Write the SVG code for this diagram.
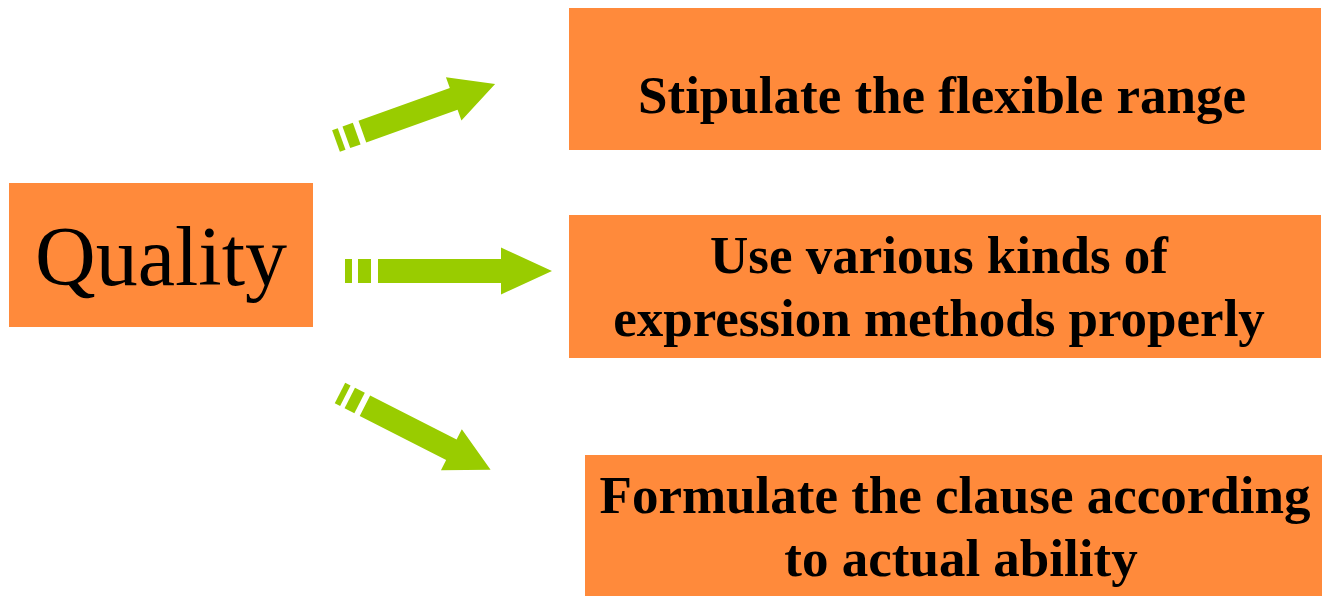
<svg xmlns="http://www.w3.org/2000/svg" width="1322" height="596" viewBox="0 0 1322 596">
  <style>
    .box { fill: #FF8A3B; }
    .label { font-family: "Liberation Serif", "Times New Roman", serif; font-weight: bold; font-size: 53px; fill: #000; text-anchor: middle; }
    .title { font-family: "Liberation Serif", "Times New Roman", serif; font-size: 84px; fill: #000; text-anchor: middle; }
    .arrow { fill: #99CC00; }
  </style>
  <rect width="1322" height="596" fill="#fff"/>

  <g id="quality">
    <rect class="box" x="9" y="183" width="304" height="144"/>
    <text class="title" x="161" y="285">Quality</text>
  </g>

  <g id="range">
    <rect class="box" x="569" y="8" width="752" height="142"/>
    <text class="label" x="942" y="113">Stipulate the flexible range</text>
  </g>

  <g id="methods">
    <rect class="box" x="569" y="215" width="752" height="143"/>
    <text class="label" x="939" y="273">Use various kinds of</text>
    <text class="label" x="939" y="336">expression methods properly</text>
  </g>

  <g id="clause">
    <rect class="box" x="585" y="455" width="737" height="141"/>
    <text class="label" x="955" y="513">Formulate the clause according</text>
    <text class="label" x="961" y="576">to actual ability</text>
  </g>

  <g id="connectors">
    <!-- upper arrow -->
    <g transform="translate(336,141) rotate(-19.7)">
      <rect class="arrow" x="0" y="-11.5" width="6" height="23"/>
      <rect class="arrow" x="11" y="-11.5" width="11" height="23"/>
      <path class="arrow" d="M28,-11.5 H125 V-23 L169,0 L125,23 V11.5 H28 Z"/>
    </g>
    <!-- middle arrow -->
    <g transform="translate(345,271)">
      <rect class="arrow" x="0" y="-12" width="7" height="24"/>
      <rect class="arrow" x="13" y="-12" width="13" height="24"/>
      <path class="arrow" d="M33,-12 H156 V-23.5 L207,0 L156,23.5 V12 H33 Z"/>
    </g>
    <!-- lower arrow -->
    <g transform="translate(340,393) rotate(27)">
      <rect class="arrow" x="0" y="-11.5" width="6" height="23"/>
      <rect class="arrow" x="11" y="-11.5" width="11" height="23"/>
      <path class="arrow" d="M28,-11.5 H125 V-23 L169,0 L125,23 V11.5 H28 Z"/>
    </g>
  </g>
</svg>
